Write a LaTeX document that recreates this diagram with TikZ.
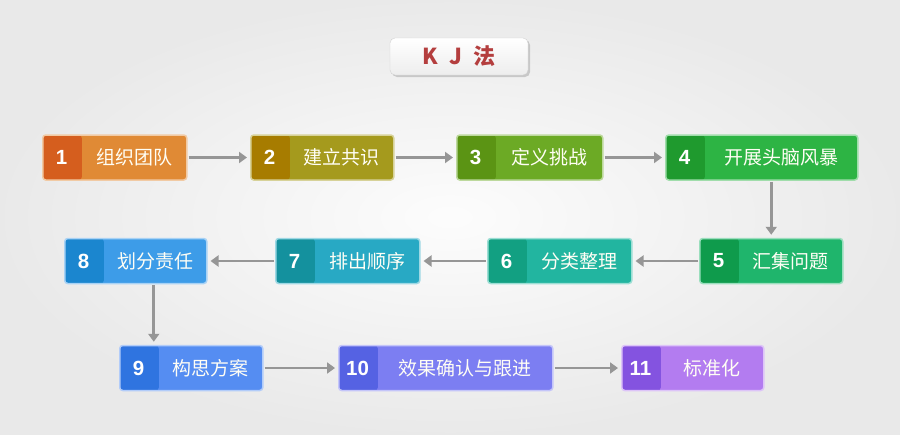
\documentclass[tikz,border=0pt]{standalone}
\usepackage{fontspec}
\setmainfont{Liberation Sans}
\newfontfamily\cjk{Noto Sans CJK SC}
\usepackage{tikz}
\usetikzlibrary{arrows.meta,positioning,shadows,calc}
\definecolor{kjTitle}{RGB}{180,62,62}
\definecolor{kjArrow}{RGB}{150,150,150}
\definecolor{kjOrangeD}{RGB}{213,94,30}
\definecolor{kjOrangeL}{RGB}{224,138,53}
\definecolor{kjOliveD}{RGB}{167,124,0}
\definecolor{kjOliveL}{RGB}{165,154,29}
\definecolor{kjLimeD}{RGB}{91,148,20}
\definecolor{kjLimeL}{RGB}{108,170,37}
\definecolor{kjGreenD}{RGB}{31,154,46}
\definecolor{kjGreenL}{RGB}{45,180,68}
\definecolor{kjEmeraldD}{RGB}{15,155,76}
\definecolor{kjEmeraldL}{RGB}{31,181,108}
\definecolor{kjTealD}{RGB}{18,160,130}
\definecolor{kjTealL}{RGB}{34,181,160}
\definecolor{kjCyanD}{RGB}{20,145,158}
\definecolor{kjCyanL}{RGB}{40,169,196}
\definecolor{kjSkyD}{RGB}{27,134,207}
\definecolor{kjSkyL}{RGB}{61,156,232}
\definecolor{kjBlueD}{RGB}{47,116,224}
\definecolor{kjBlueL}{RGB}{85,141,242}
\definecolor{kjIndigoD}{RGB}{85,98,227}
\definecolor{kjIndigoL}{RGB}{124,126,242}
\definecolor{kjVioletD}{RGB}{132,83,224}
\definecolor{kjVioletL}{RGB}{179,124,240}

\begin{document}
\begin{tikzpicture}[x=1pt,y=-1pt,
    kjbox/.style n args={3}{draw=#2!45!white, line width=1.5pt, fill=#2, rounded corners=3pt,
        minimum width=#3, minimum height=45pt, inner sep=0pt, anchor=west,
        path picture={\fill[#1] (path picture bounding box.north west) rectangle ([xshift=39pt]path picture bounding box.south west);}},
    numtxt/.style={text=white, font=\fontsize{20.5}{22}\selectfont\bfseries},
    labtxt/.style={text=white!96!yellow, font=\fontsize{19}{22}\selectfont\cjk},
    titlebox/.style={draw=gray!35, rounded corners=5pt, top color=white, bottom color=gray!14,
        minimum width=138pt, minimum height=37pt,
        drop shadow={shadow xshift=2pt, shadow yshift=-2pt, opacity=.35, fill=gray},
        text=kjTitle, font=\fontsize{22}{24}\selectfont\cjk\bfseries},
    flow/.style={draw=kjArrow, line width=2.6pt, -{Triangle[length=8pt,width=11pt]}, shorten <=1pt, shorten >=3pt}]
    \useasboundingbox (0,0) rectangle (900,434);
    \shade[inner color=gray!2, outer color=gray!17] (0,0) rectangle (900,434);

    \node[titlebox] (title) at (459,56.5) {K\hspace{11pt}J\hspace{11pt}法};

    % first row
    \node[kjbox={kjOrangeD}{kjOrangeL}{144pt}] (b1) at (42,157.5) {};
    \node[kjbox={kjOliveD}{kjOliveL}{143pt}] (b2) at (250,157.5) {};
    \node[kjbox={kjLimeD}{kjLimeL}{146pt}] (b3) at (456,157.5) {};
    \node[kjbox={kjGreenD}{kjGreenL}{192pt}] (b4) at (665,157.5) {};
    % second row
    \node[kjbox={kjEmeraldD}{kjEmeraldL}{143pt}] (b5) at (699,261) {};
    \node[kjbox={kjTealD}{kjTealL}{144pt}] (b6) at (487,261) {};
    \node[kjbox={kjCyanD}{kjCyanL}{144pt}] (b7) at (275,261) {};
    \node[kjbox={kjSkyD}{kjSkyL}{142pt}] (b8) at (64,261) {};
    % third row
    \node[kjbox={kjBlueD}{kjBlueL}{143pt}] (b9) at (119,368) {};
    \node[kjbox={kjIndigoD}{kjIndigoL}{214pt}] (b10) at (338,368) {};
    \node[kjbox={kjVioletD}{kjVioletL}{142pt}] (b11) at (621,368) {};

    \node[numtxt] (n1) at ([xshift=19.5pt]b1.west) {1};
    \node[labtxt] (t1) at ([xshift=19.5pt]b1.center) {组织团队};
    \node[numtxt] (n2) at ([xshift=19.5pt]b2.west) {2};
    \node[labtxt] (t2) at ([xshift=19.5pt]b2.center) {建立共识};
    \node[numtxt] (n3) at ([xshift=19.5pt]b3.west) {3};
    \node[labtxt] (t3) at ([xshift=19.5pt]b3.center) {定义挑战};
    \node[numtxt] (n4) at ([xshift=19.5pt]b4.west) {4};
    \node[labtxt] (t4) at ([xshift=19.5pt]b4.center) {开展头脑风暴};
    \node[numtxt] (n5) at ([xshift=19.5pt]b5.west) {5};
    \node[labtxt] (t5) at ([xshift=19.5pt]b5.center) {汇集问题};
    \node[numtxt] (n6) at ([xshift=19.5pt]b6.west) {6};
    \node[labtxt] (t6) at ([xshift=19.5pt]b6.center) {分类整理};
    \node[numtxt] (n7) at ([xshift=19.5pt]b7.west) {7};
    \node[labtxt] (t7) at ([xshift=19.5pt]b7.center) {排出顺序};
    \node[numtxt] (n8) at ([xshift=19.5pt]b8.west) {8};
    \node[labtxt] (t8) at ([xshift=19.5pt]b8.center) {划分责任};
    \node[numtxt] (n9) at ([xshift=19.5pt]b9.west) {9};
    \node[labtxt] (t9) at ([xshift=19.5pt]b9.center) {构思方案};
    \node[numtxt] (n10) at ([xshift=19.5pt]b10.west) {10};
    \node[labtxt] (t10) at ([xshift=19.5pt]b10.center) {效果确认与跟进};
    \node[numtxt] (n11) at ([xshift=19.5pt]b11.west) {11};
    \node[labtxt] (t11) at ([xshift=19.5pt]b11.center) {标准化};

    % connectors
    \draw[flow] (b1) -- (b2);
    \draw[flow] (b2) -- (b3);
    \draw[flow] (b3) -- (b4);
    \draw[flow] (b4.south -| b5.north) -- (b5.north);
    \draw[flow] (b5) -- (b6);
    \draw[flow] (b6) -- (b7);
    \draw[flow] (b7) -- (b8);
    \coordinate (d8) at ([xshift=18pt]b8.south);
    \draw[flow] (d8) -- (d8 |- b9.north);
    \draw[flow] (b9) -- (b10);
    \draw[flow] (b10) -- (b11);
\end{tikzpicture}
\end{document}
